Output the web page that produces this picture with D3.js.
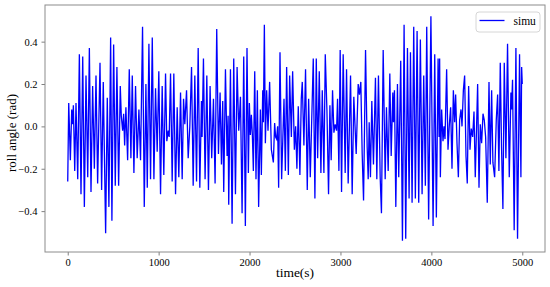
<!DOCTYPE html>
<html>
<head>
<meta charset="utf-8">
<script src="https://cdn.jsdelivr.net/npm/d3@7"></script>
<style>
  body { margin: 0; background: #fff; }
  svg text { font-family: "Liberation Serif", "Times New Roman", serif; fill: #000; }
</style>
</head>
<body>
<div id="chart"></div>
<script>
// time stamps (s) of the roll angle samples
var timeSec = [
  0,11,29,44,55,62,77,91,110,128,146,165,183,201,220,238,256,274,293,311,
  329,355,373,391,417,435,453,472,486,505,523,541,560,578,589,604,615,626,640,659,
  677,695,710,728,746,764,783,801,823,842,860,875,893,911,930,
  948,966,984,1002,1021,1039,1057,1076,1090,1105,1116,1131,1149,1167,1186,1204,1222,1241,
  1259,1274,1288,1307,1325,1343,1362,1380,1398,1417,1435,1453,1471,1478,1493,1511,1530,1548,
  1566,1584,1603,1621,1639,1658,1676,1691,1705,1716,1735,1753,1764,1771,1790,1808,1826,1845,
  1863,1881,1900,1918,1936,1954,1972,
  1987,1998,2009,2020,2031,2042,2057,2071,2086,2100,2119,2130,2145,2152,2163,2174,2188,2203,
  2221,2240,2262,2276,2287,2298,2309,2320,2335,2353,2379,2394,2408,2427,2441,2460,2474,2493,
  2507,2521,2536,2554,2569,2580,2598,2616,2635,2650,2668,2701,2719,2734,2749,2767,2785,2800,
  2818,2833,2851,2869,2884,2898,2913,2928,2942,2957,
  2968,2983,2997,3012,3030,3052,3067,3085,3111,3129,3147,3173,3195,3209,3224,3239,3254,3276,
  3294,3305,3316,3330,3345,3363,3385,3400,3418,3437,3451,3470,3492,3506,3525,3543,3558,3576,
  3583,3594,3609,3627,3641,3663,3682,3700,3718,3737,3755,3770,3788,3806,3824,3843,3861,3879,
  3898,3916,3934,3949,3970,3995,
  4019,4037,4055,4074,4085,4091,4099,4113,4128,4139,4150,4168,4183,4198,4212,4227,4242,4256,
  4267,4282,4297,4311,4326,4337,4352,4366,4381,4395,4410,4425,4439,4454,4469,4483,4498,4509,
  4524,4538,4553,4568,4582,4597,4615,4634,4648,4663,4677,4696,4714,4729,4743,4758,4772,4787,
  4802,4820,4838,4857,4875,4882,4893,4911,4930,4948,4970,4985,4993,5000
];

// roll angle (rad)
var rollAngle = [
  -0.26,0.11,-0.16,0.08,0.01,0.10,-0.21,0.11,-0.25,0.34,-0.32,0.33,-0.38,0.24,-0.24,0.37,-0.31,0.19,-0.20,0.24,
  -0.27,0.30,-0.30,0.21,-0.505,0.135,-0.38,0.42,-0.445,0.387,-0.28,0.28,-0.28,0.19,0.05,-0.02,0.06,-0.09,0.09,-0.16,
  0.27,-0.15,0.24,-0.22,0.19,-0.15,0.08,-0.16,0.47,-0.38,0.20,-0.29,0.39,-0.25,0.42,
  -0.25,0.18,-0.12,0.26,-0.32,0.19,-0.23,0.25,-0.07,-0.02,-0.05,0.25,-0.26,0.25,-0.32,0.09,-0.24,0.16,
  -0.25,0.13,0.01,0.17,-0.15,0.0,0.28,-0.28,0.24,-0.26,0.37,-0.29,0.12,-0.05,0.32,-0.25,0.24,-0.30,
  0.19,-0.15,0.13,-0.27,0.46,-0.13,0.16,-0.18,0.12,-0.31,0.27,-0.14,0.05,-0.37,0.27,-0.46,0.32,-0.32,
  0.28,-0.02,0.14,-0.41,0.33,-0.47,0.37,
  -0.22,0.11,-0.04,0.055,-0.04,-0.21,0.26,-0.25,0.17,-0.38,0.08,-0.23,0.17,0.02,0.48,-0.08,0.17,-0.02,
  0.21,-0.11,-0.17,0.016,-0.05,-0.06,0.0,-0.29,0.35,-0.25,0.13,-0.21,0.28,-0.23,0.24,-0.05,0.26,-0.11,
  0.0,-0.20,0.095,-0.23,0.13,0.21,-0.09,0.27,-0.30,0.13,-0.24,0.32,-0.34,0.32,-0.15,0.26,-0.22,0.17,
  -0.22,0.34,0.08,-0.32,0.10,-0.16,0.17,-0.03,0.01,-0.02,
  0.13,-0.21,0.36,-0.31,0.34,-0.22,0.27,-0.27,0.24,-0.32,0.14,-0.13,0.20,0.15,0.21,-0.13,-0.35,0.36,
  -0.10,-0.25,0.02,-0.24,0.12,-0.18,0.23,-0.25,0.24,-0.24,-0.41,0.36,-0.25,0.09,-0.21,0.25,-0.14,0.16,
  0.02,0.17,-0.38,0.20,-0.24,0.31,-0.54,0.48,-0.53,0.37,-0.34,0.35,-0.36,0.47,-0.34,0.45,-0.36,0.41,
  -0.32,0.24,-0.28,0.47,-0.44,0.52,
  -0.47,0.34,-0.43,0.32,-0.05,0.32,-0.24,0.08,-0.07,0.0,-0.06,0.27,-0.11,0.01,0.09,-0.20,0.17,0.02,
  0.15,-0.08,-0.24,0.03,0.08,0.0,0.17,0.24,-0.14,-0.27,0.19,-0.11,-0.01,-0.05,0.07,-0.24,0.01,0.20,
  -0.29,0.01,-0.08,0.06,0.03,-0.05,-0.36,0.21,-0.18,0.17,-0.17,-0.24,0.03,0.15,-0.21,0.30,-0.10,-0.39,
  0.30,-0.15,0.39,-0.24,0.16,0.08,0.22,-0.49,0.37,-0.53,0.34,-0.24,0.28,0.20
];

var xTicks = [0, 1000, 2000, 3000, 4000, 5000];
var yTicks = [-0.4, -0.2, 0.0, 0.2, 0.4];
var seriesName = "simu";

var svgWidth = 550;
var svgHeight = 287;

var margin = { top: 5, right: 5, bottom: 35, left: 45 };
var width = svgWidth - margin.left - margin.right;
var height = svgHeight - margin.top - margin.bottom;

var svg = d3.select("#chart")
    .append("svg")
    .attr("width", svgWidth)
    .attr("height", svgHeight);

var chartGroup = svg.append("g")
    .attr("transform", `translate(${margin.left}, ${margin.top})`);

var data = timeSec.map(function(t, i) { return { t: t, v: rollAngle[i] }; });

// matplotlib style 5% padding
var xExt = d3.extent(data, d => d.t);
var yExt = d3.extent(data, d => d.v);
var xPad = (xExt[1] - xExt[0]) * 0.05;
var yPad = (yExt[1] - yExt[0]) * 0.05;

var xLinearScale = d3.scaleLinear()
    .domain([xExt[0] - xPad, xExt[1] + xPad])
    .range([0, width]);

var yLinearScale = d3.scaleLinear()
    .domain([yExt[0] - yPad, yExt[1] + yPad])
    .range([height, 0]);

var bottomAxis = d3.axisBottom(xLinearScale)
    .tickValues(xTicks)
    .tickSize(3.5)
    .tickPadding(3)
    .tickFormat(d3.format("d"));

var leftAxis = d3.axisLeft(yLinearScale)
    .tickValues(yTicks)
    .tickSize(3.5)
    .tickPadding(4)
    .tickFormat(d3.format(".1f"));

// the line
var line = d3.line()
    .x(d => xLinearScale(d.t))
    .y(d => yLinearScale(d.v));

chartGroup.append("path")
    .datum(data)
    .attr("fill", "none")
    .attr("stroke", "#0000ff")
    .attr("stroke-width", 1.3)
    .attr("stroke-linejoin", "miter")
    .attr("d", line);

// axes
var xAxis = chartGroup.append("g")
    .attr("transform", `translate(0, ${height})`)
    .call(bottomAxis);

var yAxis = chartGroup.append("g")
    .call(leftAxis);

[xAxis, yAxis].forEach(function(ax) {
    ax.select(".domain").remove();
    ax.selectAll(".tick line").attr("stroke", "#808080");
    ax.selectAll(".tick text")
        .style("font-family", "'Liberation Serif', serif")
        .style("font-size", "10.5px")
        .attr("fill", "#000");
});

// frame
chartGroup.append("rect")
    .attr("x", 0)
    .attr("y", 0)
    .attr("width", width)
    .attr("height", height)
    .attr("fill", "none")
    .attr("stroke", "#8c8c8c")
    .attr("stroke-width", 1);

// axis titles
chartGroup.append("text")
    .attr("x", width / 2)
    .attr("y", height + 25)
    .attr("text-anchor", "middle")
    .style("font-size", "13.5px")
    .text("time(s)");

svg.append("text")
    .attr("transform", "rotate(-90)")
    .attr("x", -133)
    .attr("y", 15.5)
    .attr("text-anchor", "middle")
    .style("font-size", "13px")
    .text("roll angle (rad)");

// legend
var legend = chartGroup.append("g")
    .attr("transform", `translate(${width - 69}, 7)`);

legend.append("rect")
    .attr("width", 64)
    .attr("height", 20)
    .attr("rx", 3)
    .attr("fill", "#fff")
    .attr("fill-opacity", 0.8)
    .attr("stroke", "#d6d6d6")
    .attr("stroke-width", 1);

legend.append("line")
    .attr("x1", 3.5)
    .attr("x2", 28.5)
    .attr("y1", 8.5)
    .attr("y2", 8.5)
    .attr("stroke", "#0000ff")
    .attr("stroke-width", 1.3);

legend.append("text")
    .attr("x", 37.5)
    .attr("y", 13)
    .style("font-size", "11.5px")
    .text(seriesName);
</script>
</body>
</html>
